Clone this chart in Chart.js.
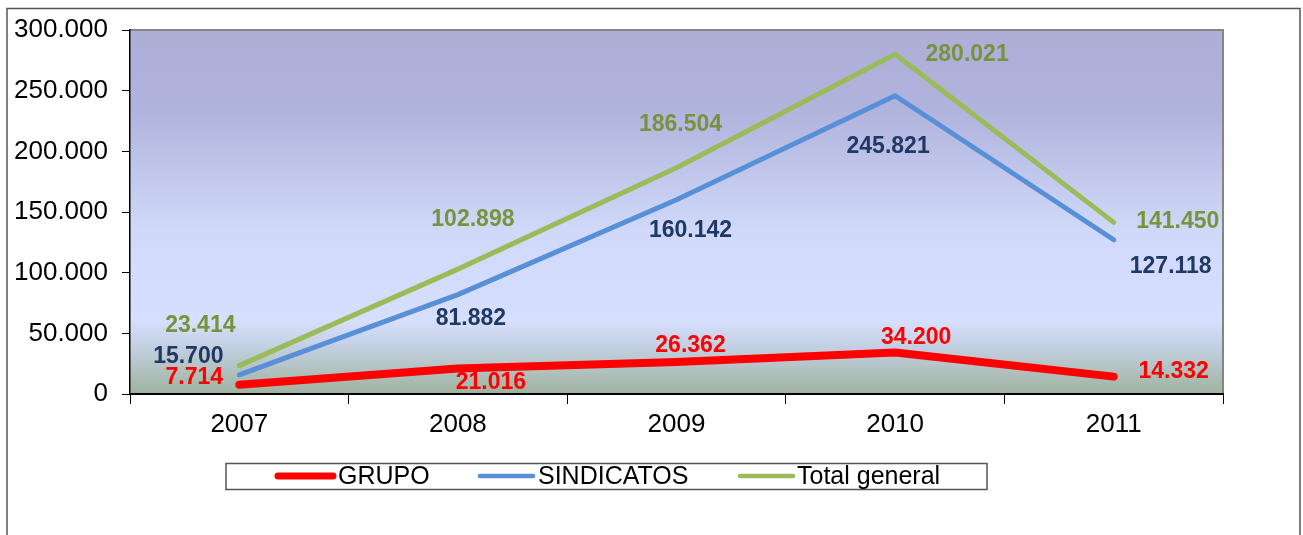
<!DOCTYPE html>
<html>
<head>
<meta charset="utf-8">
<script src="https://cdn.jsdelivr.net/npm/chart.js@4.4.1/dist/chart.umd.min.js"></script>
<style>
html,body{margin:0;padding:0;background:#fff;}
#wrap{width:1303px;height:535px;}
</style>
</head>
<body>
<div id="wrap"><canvas id="c" width="1303" height="535"></canvas></div>
<script>
const categories = ['2007', '2008', '2009', '2010', '2011'];
const grupo = [7714, 21016, 26362, 34200, 14332];
const sindicatos = [15700, 81882, 160142, 245821, 127118];
const totalGeneral = [23414, 102898, 186504, 280021, 141450];
const seriesNames = ['GRUPO', 'SINDICATOS', 'Total general'];
const yTicks = [0, 50000, 100000, 150000, 200000, 250000, 300000];

function fmt(v) {
  return v.toString().replace(/\B(?=(\d{3})+(?!\d))/g, '.');
}

// label offsets (dx, dy in px) relative to each point
const labelOffsets = [
  [[-45, -7], [33, 14], [14, -16], [21, -15], [60, -5]],
  [[-51, -18], [13, 24], [14, 31], [-7, 51], [57, 27]],
  [[-39, -40], [15, -49], [4, -43], [72, 0], [64, -1]]
];
const labelColors = ['#ff0000', '#1f3864', '#77933c'];

const bgPlugin = {
  id: 'bg',
  beforeDraw(chart) {
    const ctx = chart.ctx, a = chart.chartArea;
    ctx.save();
    ctx.fillStyle = '#fff';
    ctx.fillRect(0, 0, chart.width, chart.height);
    // outer border
    ctx.strokeStyle = '#555';
    ctx.lineWidth = 1.5;
    ctx.strokeRect(7, 8.5, 1293, 540);
    const g = ctx.createLinearGradient(0, a.top, 0, a.bottom);
    g.addColorStop(0, '#aeaed7');
    g.addColorStop(0.22, '#b0b3dc');
    g.addColorStop(0.55, '#d0d9fa');
    g.addColorStop(0.8, '#d6dffd');
    g.addColorStop(0.86, '#c6d2e6');
    g.addColorStop(1, '#9fb39f');
    ctx.fillStyle = g;
    ctx.fillRect(a.left, a.top, a.right - a.left, a.bottom - a.top);
    // top and right border
    ctx.strokeStyle = '#858585';
    ctx.lineWidth = 2;
    ctx.beginPath();
    ctx.moveTo(a.left, a.top);
    ctx.lineTo(a.right, a.top);
    ctx.lineTo(a.right, a.bottom);
    ctx.stroke();
    ctx.restore();
  },
  afterDatasetsDraw(chart) {
    const ctx = chart.ctx;
    ctx.save();
    ctx.font = 'bold 23px "Liberation Sans", Arial, sans-serif';
    ctx.textAlign = 'center';
    ctx.textBaseline = 'middle';
    chart.data.datasets.forEach((ds, i) => {
      const meta = chart.getDatasetMeta(i);
      meta.data.forEach((pt, j) => {
        const off = labelOffsets[i][j];
        ctx.fillStyle = labelColors[i];
        ctx.fillText(fmt(ds.data[j]), pt.x + off[0], pt.y + off[1]);
      });
    });
    ctx.restore();
  },
  afterDraw(chart) {
    const ctx = chart.ctx;
    ctx.save();
    // legend box
    ctx.strokeStyle = '#555';
    ctx.lineWidth = 1.5;
    ctx.strokeRect(226, 463.5, 761, 26);
    const items = [[278, 333, 338], [480, 533, 538], [740, 793, 797]];
    const widths = [7, 4.5, 4.5];
    ctx.font = '25px "Liberation Sans", Arial, sans-serif';
    ctx.textBaseline = 'middle';
    ctx.textAlign = 'left';
    chart.data.datasets.forEach((ds, i) => {
      const it = items[i];
      ctx.strokeStyle = ds.borderColor;
      ctx.lineWidth = widths[i];
      ctx.lineCap = 'round';
      ctx.beginPath();
      ctx.moveTo(it[0], 476);
      ctx.lineTo(it[1], 476);
      ctx.stroke();
      ctx.fillStyle = '#000';
      ctx.fillText(ds.label, it[2], 477);
    });
    ctx.restore();
  }
};

new Chart(document.getElementById('c'), {
  type: 'line',
  data: {
    labels: categories,
    datasets: [
      { label: seriesNames[0], data: grupo, borderColor: '#ff0000', borderWidth: 8, pointRadius: 0, borderCapStyle: 'round', borderJoinStyle: 'round', tension: 0 },
      { label: seriesNames[1], data: sindicatos, borderColor: '#5890d8', borderWidth: 5, pointRadius: 0, borderCapStyle: 'round', borderJoinStyle: 'round', tension: 0 },
      { label: seriesNames[2], data: totalGeneral, borderColor: '#9bbb59', borderWidth: 5, pointRadius: 0, borderCapStyle: 'round', borderJoinStyle: 'round', tension: 0 }
    ]
  },
  options: {
    responsive: false,
    animation: false,
    layout: { padding: { top: 30, right: 80, left: 0, bottom: 0 } },
    plugins: { legend: { display: false }, tooltip: { enabled: false } },
    scales: {
      x: {
        offset: true,
        grid: { offset: true, drawOnChartArea: false, drawTicks: true, tickLength: 10, color: '#000', lineWidth: 1 },
        border: { color: '#000', width: 2 },
        ticks: { color: '#000', font: { family: '"Liberation Sans", Arial, sans-serif', size: 26 }, padding: 5, maxRotation: 0 },
        afterFit(s) { s.height = 141; }
      },
      y: {
        min: 0, max: 300000,
        afterBuildTicks(s) { s.ticks = yTicks.map(v => ({ value: v })); },
        grid: { drawOnChartArea: false, drawTicks: true, tickLength: 8, color: '#000', lineWidth: 1 },
        border: { color: '#000', width: 1.5 },
        ticks: { color: '#000', font: { family: '"Liberation Sans", Arial, sans-serif', size: 26 }, padding: 14, callback: v => fmt(v) },
        afterFit(s) { s.width = 130; }
      }
    }
  },
  plugins: [bgPlugin]
});
</script>
</body>
</html>
